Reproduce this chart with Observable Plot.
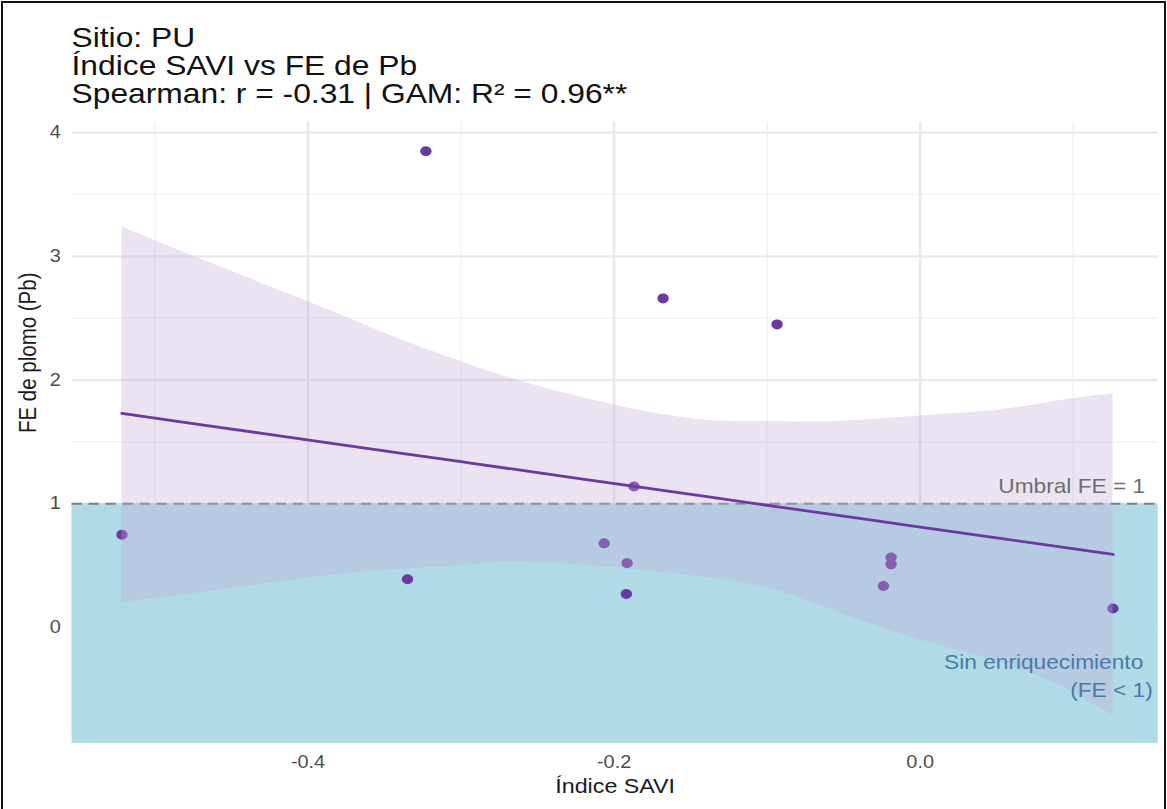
<!DOCTYPE html>
<html>
<head>
<meta charset="utf-8">
<script src="https://cdn.jsdelivr.net/npm/d3@7"></script>
<script src="https://cdn.jsdelivr.net/npm/@observablehq/plot@0.6"></script>
<style>
  html, body { margin: 0; padding: 0; background: #fff; }
  body { width: 1167px; height: 809px; overflow: hidden; position: relative; font-family: "Liberation Sans", Arial, sans-serif; }
  #frame { position: absolute; left: 1px; top: 1px; width: 1161px; height: 820px; border: 2px solid #111; box-sizing: content-box; pointer-events: none; }
  #wrap { position: absolute; left: 0; top: 0; width: 1028px; height: 809px; transform: scaleX(1.135); transform-origin: 0 0; }
  #title { position: absolute; left: 63px; top: 24px; font-size: 28px; line-height: 28px; color: #111; white-space: nowrap; }
  #chart { position: absolute; left: 0; top: 110px; }
</style>
</head>
<body>
<div id="wrap">
  <div id="title"></div>
  <div id="chart"></div>
</div>
<div id="frame"></div>
<script>
// ---- Text ----
const titleLines = ["Sitio: PU", "Índice SAVI vs FE de Pb", "Spearman: r = -0.31 | GAM: R² = 0.96**"];
const xTitle = "Índice SAVI";
const yTitle = "FE de plomo (Pb)";
const thresholdLabel = "Umbral FE = 1";
const zoneLabels = ["Sin enriquecimiento", "(FE < 1)"];

// ---- Observations ----
const savi = [-0.5216, -0.323, -0.335, -0.2065, -0.1915, -0.192, -0.187, -0.168, -0.0935, -0.019, -0.019, -0.024, 0.126];
const fePb = [0.75, 3.85, 0.39, 0.68, 0.52, 0.27, 1.14, 2.66, 2.45, 0.565, 0.51, 0.335, 0.154];

// ---- GAM fit and confidence band ----
const smoothX     = [-0.5216, -0.4706, -0.3993, -0.3399, -0.3, -0.2634, -0.2007, -0.1438, -0.1, -0.0569, 0, 0.0523, 0.0915, 0.1261];
const smoothFit   = [1.73, 1.64, 1.515, 1.41, 1.34, 1.275, 1.165, 1.065, 0.988, 0.912, 0.812, 0.72, 0.651, 0.59];
const smoothUpper = [3.24, 2.98, 2.63, 2.33, 2.15, 2.00, 1.80, 1.68, 1.665, 1.665, 1.71, 1.76, 1.835, 1.89];
const smoothLower = [0.20, 0.28, 0.40, 0.47, 0.50, 0.53, 0.485, 0.41, 0.32, 0.14, -0.10, -0.28, -0.47, -0.71];

// ---- Threshold ----
const threshold = 1;

// ---- Scales / ticks ----
const xDomain = [-0.5542, 0.1556];
const yDomain = [-0.938, 4.082];
const xTicks = [-0.4, -0.2, 0.0];
const xTickLabels = ["-0.4", "-0.2", "0.0"];
const xMinor = [-0.5, -0.3, -0.1, 0.1];
const yTicks = [0, 1, 2, 3, 4];
const yTickLabels = ["0", "1", "2", "3", "4"];
const yMinor = [-0.5, 0.5, 1.5, 2.5, 3.5];

// annotation anchors (data space)
const thresholdLabelX = 0.147;
const zoneLabelX = [0.1458, 0.152];
const zoneLabelY = [-0.283, -0.51];

// ---- Build tables ----
const points = savi.map((x, i) => ({x, y: fePb[i]}));
const smooth = smoothX.map((x, i) => ({x, fit: smoothFit[i], lo: smoothLower[i], hi: smoothUpper[i]}));
const zoneRows = zoneLabels.map((t, i) => ({t, x: zoneLabelX[i], y: zoneLabelY[i]}));

document.getElementById("title").innerHTML = titleLines.map(t => `<div>${t}</div>`).join("");

const font = "'Liberation Sans', Arial, sans-serif";
const purple = "#6b3aa0";

const chart = Plot.plot({
  width: 1028,
  height: 700,
  marginTop: 12,
  marginBottom: 67,
  marginLeft: 63,
  marginRight: 8,
  style: {fontFamily: font, background: "transparent", overflow: "visible"},
  x: {domain: xDomain},
  y: {domain: yDomain},
  marks: [
    // grid
    Plot.ruleX(xMinor, {stroke: "#f0f0f0", strokeWidth: 1.2}),
    Plot.ruleY(yMinor, {stroke: "#f0f0f0", strokeWidth: 1.2}),
    Plot.ruleX(xTicks, {stroke: "#e8e8e8", strokeWidth: 2.2}),
    Plot.ruleY(yTicks, {stroke: "#e8e8e8", strokeWidth: 2.2}),
    // no-enrichment zone
    Plot.rect([threshold], {x1: xDomain[0], x2: xDomain[1], y1: yDomain[0], y2: d => d, fill: "#add8e6", fillOpacity: 0.95}),
    // threshold
    Plot.ruleY([threshold], {stroke: "#808080", strokeWidth: 2, strokeDasharray: "9,6"}),
    // observations
    Plot.dot(points, {x: "x", y: "y", r: 5, fill: purple, stroke: "none"}),
    // GAM band + fit
    Plot.areaY(smooth, {x: "x", y1: "lo", y2: "hi", fill: "#c3a9d6", fillOpacity: 0.33, curve: "natural"}),
    Plot.line(smooth, {x: "x", y: "fit", stroke: purple, strokeWidth: 2.8, curve: "natural"}),
    // annotations
    Plot.text([thresholdLabel], {x: thresholdLabelX, y: threshold, text: d => d, textAnchor: "end", lineAnchor: "bottom", dy: -11, fontSize: 20, fill: "#6e6e6e"}),
    Plot.text(zoneRows, {x: "x", y: "y", text: "t", textAnchor: "end", fontSize: 20, fill: "#4a7aa8"}),
    // axes
    Plot.axisX({ticks: xTicks, tickFormat: (d, i) => xTickLabels[i], tickSize: 0, tickPadding: 12, fontSize: 17.5, color: "#4d4d4d", label: null}),
    Plot.axisY({ticks: yTicks, tickFormat: (d, i) => yTickLabels[i], tickSize: 0, tickPadding: 10, fontSize: 17.5, color: "#4d4d4d", label: null}),
    Plot.text([xTitle], {frameAnchor: "bottom", text: d => d, dy: 49, fontSize: 20.5, fill: "#1a1a1a"}),
    Plot.text([yTitle], {frameAnchor: "left", text: d => d, rotate: -90, dx: -38.5, fontSize: 20.5, fill: "#1a1a1a"})
  ]
});
document.getElementById("chart").appendChild(chart);
</script>
</body>
</html>
